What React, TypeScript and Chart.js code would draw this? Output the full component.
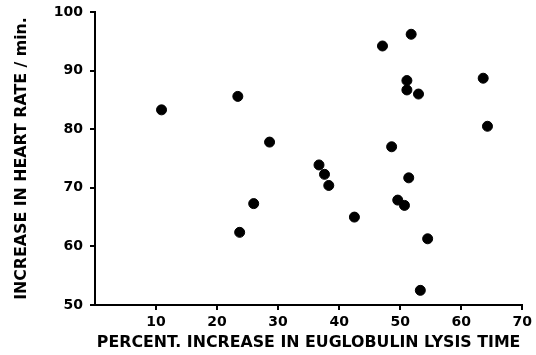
import React, { useEffect, useRef } from "react";
import { Chart, registerables } from "chart.js";

Chart.register(...registerables);

const lysisIncrease = [10.9, 23.4, 28.6, 36.7, 37.6, 38.3, 26.0, 23.7, 51.8, 47.1, 51.1, 51.1, 53.0, 63.6, 64.3, 48.6, 51.4, 49.6, 50.7, 42.5, 54.5, 53.3];
const heartRateIncrease = [83.3, 85.6, 77.8, 73.9, 72.3, 70.4, 67.3, 62.4, 96.2, 94.2, 88.3, 86.7, 86.0, 88.7, 80.5, 77.0, 71.7, 67.9, 67.0, 65.0, 61.3, 52.5];
const xTickValues = [10, 20, 30, 40, 50, 60, 70];
const yTickValues = [50, 60, 70, 80, 90, 100];
const xTitle = "PERCENT. INCREASE IN EUGLOBULIN LYSIS TIME";
const yTitle = "INCREASE IN HEART RATE / min.";

export default function App() {
  const ref = useRef<HTMLCanvasElement | null>(null);
  useEffect(() => {
    if (!ref.current) return;
    const pts = lysisIncrease.map((x, i) => ({ x, y: heartRateIncrease[i] }));
    const tickFont = { family: "'DejaVu Sans', sans-serif", size: 14, weight: "bold" as const };
    const titleFont = { family: "'DejaVu Sans', sans-serif", size: 15.8, weight: "bold" as const };
    const chart = new Chart(ref.current, {
      type: "scatter",
      data: {
        datasets: [
          {
            data: pts,
            backgroundColor: "#000",
            borderColor: "#000",
            pointRadius: 5,
            pointHoverRadius: 5,
          },
        ],
      },
      options: {
        animation: false,
        responsive: false,
        maintainAspectRatio: false,
        layout: { padding: { top: 12, right: 13, left: 0, bottom: 0 } },
        plugins: { legend: { display: false }, tooltip: { enabled: false } },
        scales: {
          x: {
            type: "linear",
            min: 0,
            max: 70,
            afterBuildTicks: (s: any) => {
              s.ticks = xTickValues.map((v) => ({ value: v }));
            },
            afterFit: (s: any) => {
              s.height = 50;
            },
            grid: { display: true, drawOnChartArea: false, drawTicks: true, tickLength: 5, color: "#000", lineWidth: 2 },
            border: { display: true, color: "#000", width: 2 },
            ticks: { color: "#000", font: tickFont, padding: 4, maxRotation: 0 },
            title: { display: true, text: xTitle, color: "#000", font: titleFont, padding: { top: 0, bottom: 3 } },
          },
          y: {
            type: "linear",
            min: 50,
            max: 100,
            afterBuildTicks: (s: any) => {
              s.ticks = yTickValues.map((v) => ({ value: v }));
            },
            afterFit: (s: any) => {
              s.width = 95;
              s.paddingTop = 0;
              s.paddingBottom = 0;
            },
            grid: { display: true, drawOnChartArea: false, drawTicks: true, tickLength: 5, color: "#000", lineWidth: 2 },
            border: { display: true, color: "#000", width: 2 },
            ticks: { color: "#000", font: tickFont, padding: 7 },
            title: { display: true, text: yTitle, color: "#000", font: titleFont, padding: { top: 12, bottom: 0 } },
          },
        },
      },
    });
    return () => chart.destroy();
  }, []);
  return (
    <div style={{ position: "fixed", left: 0, top: 0, width: 536, height: 355, background: "#fff" }}>
      <canvas ref={ref} width={536} height={355} style={{ width: 536, height: 355 }} />
    </div>
  );
}
